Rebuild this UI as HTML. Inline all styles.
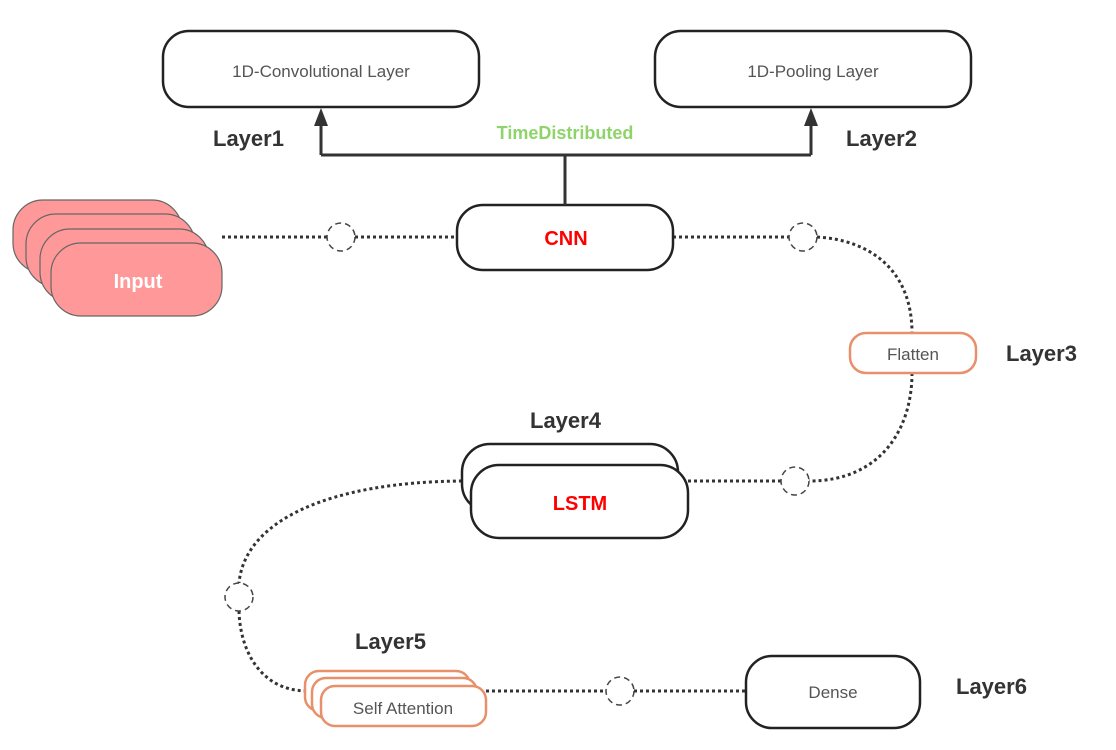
<!DOCTYPE html>
<html><head><style>body{margin:0;background:#fff}svg{display:block}text{font-family:"Liberation Sans",sans-serif}</style></head><body>
<svg width="1116" height="750" viewBox="0 0 1116 750">
<g fill="none" stroke="#333" stroke-width="3" stroke-dasharray="3 3">
<path d="M222 237 H327"/>
<path d="M355 237 H457"/>
<path d="M673 237 H789"/>
<path d="M817 237 C870 240 912 270 912 333"/>
<path d="M912 373 C912 430 880 481 809 481"/>
<path d="M781 481 H688"/>
<path d="M462 481 C330 482 245 520 239 583"/>
<path d="M239 611 C240 650 260 690 306 691"/>
<path d="M486 691 H606"/>
<path d="M634 691 H746"/>
</g>
<g fill="#fff" stroke="#444" stroke-width="1.5" stroke-dasharray="6 4">
<circle cx="341" cy="237" r="14"/><circle cx="803" cy="237" r="14"/><circle cx="795" cy="481" r="14"/><circle cx="239" cy="597" r="14"/><circle cx="620" cy="691" r="14"/>
</g>
<g fill="#ff9999" stroke="#666" stroke-width="1.2">
<rect x="13" y="200" width="169" height="73" rx="30"/>
<rect x="26" y="214" width="169" height="73" rx="30"/>
<rect x="40" y="229" width="169" height="73" rx="30"/>
<rect x="51" y="243" width="171" height="73" rx="30"/>
</g>
<text x="138" y="288" font-size="20" font-weight="bold" fill="#fff" text-anchor="middle">Input</text>
<g fill="#fff" stroke="#222" stroke-width="2.5">
<rect x="163" y="31" width="316" height="76" rx="26"/>
<rect x="655" y="31" width="316" height="76" rx="26"/>
<rect x="457" y="205" width="216" height="65" rx="26"/>
<rect x="462" y="444" width="216" height="68" rx="28"/>
<rect x="471" y="465" width="217" height="73" rx="28"/>
<rect x="746" y="656" width="174" height="72" rx="26"/>
</g>
<g fill="#fff" stroke="#e8906a" stroke-width="2.5">
<rect x="850" y="333" width="126" height="40" rx="16"/>
<rect x="305" y="671" width="165" height="40" rx="14"/>
<rect x="312" y="678" width="165" height="40" rx="14"/>
<rect x="321" y="686" width="165" height="40" rx="14"/>
</g>
<g stroke="#333" stroke-width="3" fill="none"><path d="M565 205 V155 M321 155 H811 M321 155 V124 M811 155 V124"/></g>
<g fill="#333"><path d="M314 126 L321 108 L328 126 Z"/><path d="M804 126 L811 108 L818 126 Z"/></g>
<g font-size="17" fill="#555" text-anchor="middle">
<text x="321" y="77">1D-Convolutional Layer</text>
<text x="813" y="77">1D-Pooling Layer</text>
<text x="913" y="360">Flatten</text>
<text x="403" y="714">Self Attention</text>
<text x="833" y="698">Dense</text>
</g>
<g font-size="20" font-weight="bold" fill="#f00" text-anchor="middle">
<text x="566" y="245">CNN</text><text x="580" y="510">LSTM</text>
</g>
<text x="565" y="139" font-size="18" font-weight="bold" fill="#8fd46a" text-anchor="middle">TimeDistributed</text>
<g font-size="22" font-weight="bold" fill="#333">
<text x="213" y="146">Layer1</text>
<text x="846" y="146">Layer2</text>
<text x="1006" y="361">Layer3</text>
<text x="530" y="428">Layer4</text>
<text x="355" y="649">Layer5</text>
<text x="956" y="694">Layer6</text>
</g>
</svg>
</body></html>
